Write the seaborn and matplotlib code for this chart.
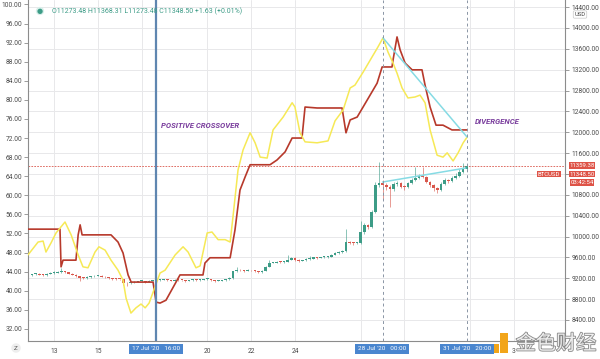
import numpy as np
import pandas as pd
import matplotlib.pyplot as plt
import matplotlib.patheffects as pe
from matplotlib.patches import Rectangle
from matplotlib import font_manager
import seaborn as sns

# ---- data -------------------------------------------------------------
# BTCUSD 4h candles, 12 Jul 00:00 -> 31 Jul 20:00 (x = day of July)
first_open = 9262
closes = [
    9275, 9290, 9270, 9260, 9285, 9300,      # 12
    9310, 9325, 9330, 9315, 9290, 9270,      # 13
    9240, 9210, 9200, 9220, 9235, 9245,      # 14
    9250, 9230, 9215, 9200, 9190, 9185,      # 15
    9180, 9110, 9100, 9120, 9135, 9140,      # 16
    9145, 9130, 9150, 9160, 9165, 9170,      # 17
    9175, 9160, 9155, 9170, 9165, 9160,      # 18
    9150, 9165, 9175, 9160, 9170, 9180,      # 19
    9185, 9160, 9150, 9155, 9160, 9180,      # 20
    9200, 9330, 9360, 9350, 9340, 9355,      # 21
    9350, 9330, 9320, 9345, 9420, 9500,      # 22
    9500, 9510, 9505, 9520, 9560, 9590,      # 23
    9560, 9540, 9545, 9570, 9575, 9600,      # 24
    9590, 9600, 9605, 9610, 9650, 9680,      # 25
    9700, 9720, 9890, 9880, 9870, 9875,      # 26
    10080, 10220, 10190, 10470, 10990, 11030,  # 27
    10990, 10950, 10920, 11000, 11020, 10960,  # 28
    10950, 11020, 11080, 11120, 11160, 11150,  # 29
    11050, 10980, 10930, 10900, 11000, 11080,  # 30
    11060, 11120, 11170, 11230, 11290, 11348.5,  # 31
]
highs = [
    9290, 9300, 9300, 9285, 9295, 9320,
    9340, 9345, 9400, 9345, 9325, 9300,
    9280, 9250, 9225, 9235, 9250, 9260,
    9265, 9260, 9240, 9225, 9210, 9200,
    9195, 9185, 9125, 9135, 9145, 9155,
    9160, 9155, 9160, 9175, 9180, 9185,
    9190, 9185, 9170, 9185, 9180, 9175,
    9170, 9175, 9190, 9185, 9180, 9195,
    9200, 9190, 9170, 9165, 9175, 9190,
    9215, 9345, 9420, 9375, 9365, 9370,
    9365, 9360, 9340, 9360, 9440, 9560,
    9520, 9525, 9525, 9540, 9650, 9610,
    9600, 9570, 9560, 9590, 9620, 9615,
    9610, 9615, 9620, 9625, 9665, 9700,
    9715, 9740, 10150, 9920, 9900, 9900,
    10300, 10260, 10250, 10500, 11050, 11430,
    11080, 11020, 10980, 11050, 11060, 11040,
    10990, 11050, 11120, 11330, 11200, 11340,
    11170, 11070, 11000, 10950, 11040, 11120,
    11110, 11160, 11210, 11300, 11420, 11368.31,
]
lows = [
    9250, 9265, 9255, 9240, 9250, 9275,
    9290, 9300, 9310, 9300, 9275, 9255,
    9220, 9140, 9180, 9190, 9210, 9225,
    9235, 9215, 9200, 9185, 9175, 9170,
    9165, 9070, 9060, 9090, 9110, 9125,
    9130, 9110, 9120, 9140, 9150, 9155,
    9160, 9145, 9140, 9145, 9150, 9145,
    9135, 9140, 9155, 9145, 9150, 9160,
    9170, 9145, 9135, 9140, 9145, 9150,
    9170, 9195, 9320, 9335, 9325, 9330,
    9335, 9315, 9300, 9310, 9335, 9410,
    9485, 9490, 9490, 9495, 9510, 9550,
    9540, 9520, 9525, 9535, 9560, 9565,
    9575, 9580, 9590, 9595, 9600, 9640,
    9670, 9690, 9710, 9850, 9840, 9850,
    9860, 10050, 10150, 10170, 10450, 10950,
    10700, 10900, 10570, 10880, 10970, 10930,
    10900, 10930, 11000, 11060, 11100, 11120,
    11020, 10950, 10880, 10830, 10880, 10980,
    11030, 11040, 11100, 11150, 11210, 11273.48,
]

# oscillators on the left 0-100 scale (traced)
yellow_day = [11.81, 12.27, 12.50, 12.63, 12.86, 13.09, 13.50, 13.78, 14.10, 14.32,
              14.55, 14.87, 15.05, 15.33, 15.60, 15.92, 16.15, 16.29, 16.51, 16.74,
              16.97, 17.16, 17.34, 17.61, 17.84, 18.07, 18.53, 18.89, 19.12, 19.48,
              19.67, 19.99, 20.21, 20.49, 20.81, 21.04, 21.17, 21.40, 21.63, 21.95,
              22.18, 22.41, 22.73, 23.00, 23.46, 23.87, 24.00, 24.23, 24.46, 25.01,
              25.51, 25.83, 26.20, 26.52, 26.74, 27.11, 27.52, 27.79, 28.02, 28.25,
              28.48, 28.66, 28.89, 29.16, 29.48, 29.71, 29.94, 30.17, 30.49, 30.76,
              30.95, 31.22, 31.45, 31.68, 31.86]
yellow_val = [47.5, 50.2, 50.4, 48.1, 50.0, 52.1, 54.4, 51.7, 47.5, 45.0,
              44.8, 48.1, 49.2, 48.5, 46.4, 44.3, 42.2, 38.4, 35.3, 36.4,
              37.2, 36.4, 37.4, 40.8, 43.7, 44.3, 47.5, 49.2, 48.1, 44.8,
              45.2, 52.1, 52.3, 50.7, 50.7, 50.2, 55.5, 65.3, 69.5, 73.1,
              71.0, 68.0, 67.8, 73.7, 76.4, 79.4, 78.5, 73.1, 71.2, 71.0,
              71.4, 75.6, 77.9, 82.5, 83.1, 85.8, 89.0, 91.1, 93.0, 90.0,
              87.7, 85.6, 82.5, 80.4, 80.6, 81.0, 79.4, 73.7, 68.4, 68.0,
              68.9, 67.2, 68.9, 71.0, 72.2]
red_day = [11.81, 13.27, 13.32, 13.41, 14.00, 14.10, 14.19, 14.28, 15.60, 15.92,
           16.15, 16.38, 16.52, 17.52, 17.66, 17.84, 18.11, 18.75, 19.80, 19.89,
           20.12, 21.04, 21.26, 21.49, 21.72, 21.95, 22.86, 23.18, 23.55, 23.87,
           24.32, 24.46, 25.01, 26.15, 26.33, 26.52, 26.84, 27.11, 27.52, 27.75,
           27.98, 28.43, 28.48, 28.66, 28.80, 29.03, 29.35, 29.80, 29.94, 30.17,
           30.44, 30.76, 31.17, 31.86]
red_val = [52.9, 52.9, 45.0, 46.4, 46.4, 51.7, 53.8, 51.7, 51.7, 50.2,
           47.9, 43.3, 41.8, 41.8, 37.6, 37.4, 38.0, 43.3, 43.3, 45.8,
           46.9, 46.9, 52.7, 61.1, 63.8, 66.4, 66.4, 67.4, 69.1, 72.0,
           72.0, 78.5, 78.3, 78.3, 73.1, 75.8, 76.4, 78.5, 81.7, 83.5,
           86.9, 86.9, 88.4, 93.2, 90.5, 87.7, 86.3, 86.3, 83.1, 78.5,
           74.7, 74.7, 73.7, 73.7]

div_osc_day = [28.02, 31.86]
div_osc_val = [93.0, 72.2]
div_price_day = [28.0, 31.8]
div_price_val = [11046, 11315]

mark_price = 11359.38
cross_day = 17 + 16 / 24
div_days = [28.0, 31 + 20 / 24]

# labels hidden behind the date / price badges are left blank
date_ticks = [13, 15, 17, 20, 22, 24, 27, 29, 32, 34]
date_labels = ['13', '15', '', '20', '22', '24', '', '', '', '3']
osc_ticks = np.arange(32, 101, 4)
price_ticks = np.arange(8400, 14401, 400)
price_hidden = [11200]

# ---- style ------------------------------------------------------------
sns.set_theme(style='white')
names = {f.name for f in font_manager.fontManager.ttflist}
narrow = 'Liberation Sans Narrow' if 'Liberation Sans Narrow' in names else 'Roboto'
plt.rcParams['font.family'] = [narrow, 'DejaVu Sans']

green, red = '#3d9c87', '#d9574c'
grid_c, axis_c, lab_c = '#e8e8ea', '#8c8c8c', '#4a4a4a'

df = pd.DataFrame({'t': 12 + np.arange(len(closes)) / 6,
                   'close': closes, 'high': highs, 'low': lows})
df['open'] = df['close'].shift(1).fillna(first_open)
df['up'] = df['close'] >= df['open']

fig = plt.figure(figsize=(6, 3.59), dpi=100)
ax = fig.add_axes([28 / 600, 18 / 359, 537 / 600, 341 / 359])
ax.set_xlim(11.81, 36.33)
ax.set_ylim(7997, 14537)

# grid
for p in price_ticks:
    ax.axhline(p, color=grid_c, lw=0.7, zorder=0)
for d in date_ticks:
    ax.axvline(d, color=grid_c, lw=0.7, zorder=0)

# candles
cols = np.where(df['up'], green, red)
body_lo = df[['open', 'close']].min(axis=1)
body_h = (df['close'] - df['open']).abs().clip(lower=18)
ax.vlines(df['t'], df['low'], df['high'], colors=cols, lw=0.7, alpha=0.6, zorder=2)
ax.bar(df['t'], body_h, bottom=body_lo, width=0.12, color=cols, lw=0, zorder=3)

ax.axhline(mark_price, color='#d9574c', lw=0.6, ls=(0, (2, 1.5)), zorder=1)
ax.plot(div_price_day, div_price_val, color='#86dbe4', lw=1.1, zorder=4)

# oscillators
osc = ax.twinx()
osc.set_ylim(29.45, 100.94)
sns.lineplot(x=red_day, y=red_val, ax=osc, color='#b7392b', lw=1.2,
             sort=False, estimator=None)
sns.lineplot(x=yellow_day, y=yellow_val, ax=osc, color='#f6e956', lw=1.1,
             sort=False, estimator=None)
osc.plot(div_osc_day, div_osc_val, color='#86dbe4', lw=1.1)

osc.axvline(cross_day, color='#5f86b0', lw=1.6)
for d in div_days:
    osc.axvline(d, color='#8a95a5', lw=0.7, ls=(0, (3, 3)))

osc.text(17.89, 74.7, 'POSITIVE CROSSOVER', color='#7b3f9e', fontsize=5.6,
         fontweight='bold', style='italic', va='center')
osc.text(32.22, 75.4, 'DIVERGENCE', color='#7b3f9e', fontsize=5.6,
         fontweight='bold', style='italic', va='center')

# axes / ticks
for a in (ax, osc):
    for s in a.spines.values():
        s.set_visible(False)
for s in ('left', 'right', 'bottom'):
    ax.spines[s].set_visible(True)
    ax.spines[s].set_color(axis_c)
    ax.spines[s].set_linewidth(0.8)

ax.yaxis.tick_right()
ax.set_yticks(price_ticks)
ax.set_yticklabels(['' if p in price_hidden else f'{p:.2f}' for p in price_ticks])
ax.tick_params(axis='y', right=True, left=False, labelright=True, labelleft=False,
               length=3, width=0.6, color=axis_c, labelsize=4.8, labelcolor=lab_c, pad=1.5)
osc.yaxis.set_ticks_position('left')
osc.yaxis.set_label_position('left')
osc.set_yticks(osc_ticks)
osc.set_yticklabels([f'{v:.2f}' for v in osc_ticks])
osc.tick_params(axis='y', left=True, right=False, labelleft=True, labelright=False,
                length=3, width=0.6, color=axis_c, labelsize=4.8, labelcolor=lab_c, pad=1)
ax.set_xticks(date_ticks)
ax.set_xticklabels(date_labels)
ax.tick_params(axis='x', length=2, width=0.6, color=axis_c, labelsize=4.8,
               labelcolor=lab_c, pad=3)
ax.set_xlabel('')
osc.set_xlabel('')
osc.set_ylabel('')


def fx(x):
    return x / 600


def fy(y):
    return 1 - y / 359


# header
fig.text(fx(40), fy(11), '\u25CF', color='#3d9c87', fontsize=5, ha='center', va='center',
         family=['DejaVu Sans'],
         bbox=dict(boxstyle='circle,pad=0.15', fc='#d8efea', ec='none'))
fig.text(fx(52), fy(11), 'O11273.48 H11368.31 L11273.48 C11348.50 +1.63 (+0.01%)',
         color='#3d9c87', fontsize=5, va='center')

# price badges
fig.text(fx(580), fy(14.5), 'USD', color='#444', fontsize=4.2, ha='center', va='center',
         bbox=dict(boxstyle='round,pad=0.2', fc='white', ec='#c8c8c8', lw=0.5))
badge = dict(boxstyle='square,pad=0.12', fc='#de5347', ec='none')
fig.text(fx(582), fy(165.5), '11359.38', color='white', fontsize=4.3, ha='center',
         va='center', bbox=badge)
fig.text(fx(582), fy(174), '11348.50', color='white', fontsize=4.3, ha='center',
         va='center', bbox=badge)
fig.text(fx(549), fy(174), 'BTCUSD', color='white', fontsize=4.3, ha='center',
         va='center', bbox=badge)
fig.text(fx(582), fy(182.5), '03:42:54', color='white', fontsize=4.3, ha='center',
         va='center', bbox=badge)

# date badges
dbadge = dict(boxstyle='square,pad=0.4', fc='#4a86cf', ec='none')
for xp, lab in [(156, "17 Jul '20   16:00"), (382, "28 Jul '20   00:00"),
                (467, "31 Jul '20   20:00")]:
    fig.text(fx(xp), fy(349), lab, color='white', fontsize=4.6, ha='center',
             va='center', bbox=dbadge)

fig.text(fx(16), fy(348), 'Z', color='#555', fontsize=4.6, ha='center', va='center',
         bbox=dict(boxstyle='circle,pad=0.35', fc='#eeeeee', ec='none'))

# watermark
fig.patches.append(Rectangle((fx(489), fy(353)), 10 / 600, 9 / 359,
                             transform=fig.transFigure, fc='#f2a51a', ec='none'))
fig.patches.append(Rectangle((fx(500), fy(353)), 8 / 600, 20 / 359,
                             transform=fig.transFigure, fc='#f2a51a', ec='none'))
fig.text(fx(556), fy(344), '金色财经', fontsize=14.5, ha='center', va='center',
         color='#eeeeee', family=['Noto Sans CJK SC', 'DejaVu Sans'],
         path_effects=[pe.withStroke(linewidth=1.2, foreground='#8a8a8a')])

plt.savefig('out.png', dpi=100)
